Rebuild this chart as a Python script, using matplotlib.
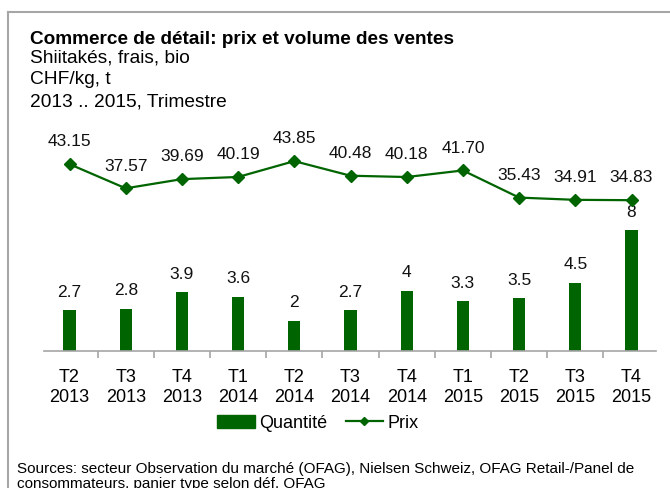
import matplotlib
matplotlib.use('agg')
import matplotlib.pyplot as plt
from matplotlib.lines import Line2D
from matplotlib.patches import Patch

plt.rcParams['font.family'] = ['Liberation Sans', 'DejaVu Sans']

# données
trimestres = ["T2", "T3", "T4", "T1", "T2", "T3", "T4", "T1", "T2", "T3", "T4"]
annees = ["2013", "2013", "2013", "2014", "2014", "2014", "2014", "2015", "2015", "2015", "2015"]
quantite = [2.7, 2.8, 3.9, 3.6, 2, 2.7, 4, 3.3, 3.5, 4.5, 8]
prix = [43.15, 37.57, 39.69, 40.19, 43.85, 40.48, 40.18, 41.70, 35.43, 34.91, 34.83]

vert = "#006400"
gris = "#a6a6a6"

W, H = 670, 488
fig = plt.figure(figsize=(W / 100, H / 100), dpi=100)

# zone du graphique en pixels
x0, x1 = 41.4, 659.6
y_bas, y_haut = 351, 130
ax = fig.add_axes([x0 / W, 1 - y_bas / H, (x1 - x0) / W, (y_bas - y_haut) / H])
ax2 = ax.twinx()

x = list(range(len(quantite)))
ax.bar(x, quantite, width=0.22, color=vert, zorder=2)
for xi, q in zip(x, quantite):
    ax.annotate(f"{q:g}", (xi, q), xytext=(0, 13), textcoords="offset points",
                ha="center", va="center", fontsize=12.5, color="#111111")

ax2.plot(x, prix, color=vert, lw=1.6, marker="D", markersize=6.5, zorder=3)
for xi, p in zip(x, prix):
    ax2.annotate(f"{p:.2f}", (xi, p), xytext=(0, 16), textcoords="offset points",
                 ha="center", va="center", fontsize=12.5, color="#111111")

ax.set_xlim(-0.5, len(x) - 0.5)
ax.set_ylim(0, (y_bas - y_haut) / 15.1)
ax2.set_ylim(0, (y_bas - y_haut) / 4.33)

for a in (ax, ax2):
    for s in ("top", "right", "left"):
        a.spines[s].set_visible(False)
    a.set_yticks([])
ax2.spines["bottom"].set_visible(False)
ax.spines["bottom"].set_color(gris)
ax.spines["bottom"].set_linewidth(1.2)
ax.spines["bottom"].set_bounds(-0.454, len(x) - 0.57)

ax.set_xticks(x)
ax.set_xticklabels([f"{t}\n{a}" for t, a in zip(trimestres, annees)], fontsize=13, linespacing=1.2)
ax.tick_params(axis="x", which="major", length=0, pad=13)
ax.set_xticks([i + 0.5 for i in x[:-1]], minor=True)
ax.tick_params(axis="x", which="minor", length=5, color=gris, width=1.2)

# titres
fig.text(30 / W, 1 - 39 / H, "Commerce de détail: prix et volume des ventes",
         fontsize=13.7, fontweight="bold", va="center")
fig.text(30 / W, 1 - 58 / H, "Shiitakés, frais, bio", fontsize=13.8, va="center")
fig.text(30 / W, 1 - 80 / H, "CHF/kg, t", fontsize=13.8, va="center")
fig.text(30 / W, 1 - 102 / H, "2013 .. 2015, Trimestre", fontsize=13.8, va="center")

# légende
handles = [Patch(color=vert, label="Quantité"),
           Line2D([], [], color=vert, lw=1.6, marker="D", markersize=4.5, label="Prix")]
fig.legend(handles=handles, loc="center", bbox_to_anchor=(318 / W, 1 - 423 / H), ncol=2,
           frameon=False, fontsize=13, handlelength=2.1, handleheight=0.7,
           handletextpad=0.25, columnspacing=1.0)

# sources
fig.text(17 / W, 1 - 488 / H,
         "Sources: secteur Observation du marché (OFAG), Nielsen Schweiz, OFAG Retail-/Panel de\n"
         "consommateurs, panier type selon déf. OFAG",
         fontsize=11, va="baseline", linespacing=1.1)

# cadre
fig.add_artist(Line2D([8 / W, 1], [1 - 12 / H, 1 - 12 / H], color=gris, lw=1.5))
fig.add_artist(Line2D([8 / W, 8 / W], [0, 1 - 12 / H], color=gris, lw=1.5))

fig.savefig("out.png", dpi=100)
